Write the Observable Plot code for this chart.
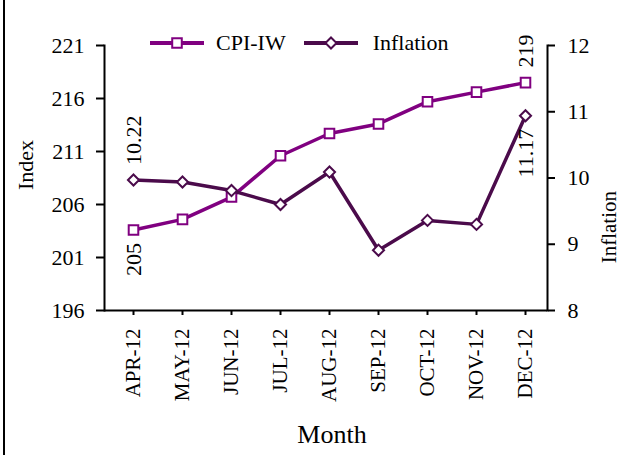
<!DOCTYPE html>
<html><head><meta charset="utf-8">
<script src="https://cdn.jsdelivr.net/npm/d3@7"></script>
<script src="https://cdn.jsdelivr.net/npm/@observablehq/plot@0.6"></script>
<style>
body{margin:0;background:#fff;font-family:"Liberation Serif","Times New Roman",serif;}
#wrap{position:relative;width:622px;height:455px;overflow:hidden;background:#fff;}
#border{position:absolute;left:3px;top:0;width:2px;height:455px;background:#000;}
#title{position:absolute;left:0;width:590px;text-align:center;top:-19px;font-size:22px;line-height:22px;color:#333;}
#legend{position:absolute;top:30px;left:150px;display:flex;align-items:center;font-size:22px;line-height:26px;color:#000;}
#legend svg{display:block;}
#chart{position:absolute;left:0;top:0;}
</style></head><body>
<div id="wrap">
  <div id="border"></div>
  <div id="chart"></div>
  <div id="title">Inflation Rate</div>
  <div id="legend"></div>
</div>
<script>
// ---- data ----
const months = ["APR-12","MAY-12","JUN-12","JUL-12","AUG-12","SEP-12","OCT-12","NOV-12","DEC-12"];
const cpiValues = [203.6, 204.6, 206.7, 210.6, 212.7, 213.6, 215.7, 216.6, 217.5];
const inflationValues = [9.97, 9.94, 9.81, 9.60, 10.09, 8.91, 9.36, 9.30, 10.94];
const indexTicks = [196, 201, 206, 211, 216, 221];
const inflationTicks = [8, 9, 10, 11, 12];
const seriesNames = ["CPI-IW", "Inflation"];
const seriesColors = ["#800080", "#4B0B4B"];
const labelMonths = ["APR-12", "APR-12", "DEC-12", "DEC-12"];
const labelSeries = ["Inflation", "CPI-IW", "CPI-IW", "Inflation"];
const labelTexts = ["10.22", "205", "219", "11.17"];
const labelSide = ["above", "below", "above", "below"];

// ---- derived ----
const inf2idx = d3.scaleLinear([8, 12], [196, 221]);
const rows = months.map((m, i) => ({month: m, cpi: cpiValues[i], inf: inf2idx(inflationValues[i])}));
const annotations = labelTexts.map((t, i) => {
  const r = rows[months.indexOf(labelMonths[i])];
  return {month: labelMonths[i], y: labelSeries[i] === "CPI-IW" ? r.cpi : r.inf, text: t, side: labelSide[i]};
});
const font = '"Liberation Serif", "Times New Roman", serif';

const chart = Plot.plot({
  width: 622, height: 455,
  marginLeft: 104, marginRight: 75, marginTop: 45, marginBottom: 145,
  style: {fontFamily: font, fontSize: "22px", color: "#000", background: "transparent"},
  x: {type: "point", domain: months, padding: 0, insetLeft: 27, insetRight: 20},
  y: {domain: [196, 221]},
  marks: [
    Plot.frame({anchor: "left", stroke: "#000", strokeWidth: 2}),
    Plot.frame({anchor: "right", stroke: "#000", strokeWidth: 2}),
    Plot.ruleY([196], {stroke: "#000", strokeWidth: 2}),
    Plot.axisY(indexTicks, {anchor: "left", tickSize: 8, tickPadding: 12, strokeWidth: 2, label: null, fontSize: 22}),
    Plot.axisY(inflationTicks.map(inf2idx), {anchor: "right", tickFormat: d => String(Math.round(inf2idx.invert(d))), tickSize: 7, tickPadding: 13, strokeWidth: 2, label: null, fontSize: 22}),
    Plot.axisX({tickRotate: -90, tickSize: 5, tickPadding: 13, strokeWidth: 2, label: null, fontSize: 21}),
    Plot.text(["Index"], {frameAnchor: "left", dx: -79, dy: 12, rotate: -90, fontSize: 22}),
    Plot.text(["Inflation"], {frameAnchor: "right", dx: 62, dy: 13, rotate: -90, fontSize: 21}),
    Plot.text(["Month"], {frameAnchor: "bottom", dx: 6, dy: 132, fontSize: 26}),
    Plot.line(rows, {x: "month", y: "cpi", stroke: seriesColors[0], strokeWidth: 3.5}),
    Plot.dot(rows, {x: "month", y: "cpi", symbol: "square", r: 5.4, fill: "white", stroke: seriesColors[0], strokeWidth: 2}),
    Plot.line(rows, {x: "month", y: "inf", stroke: seriesColors[1], strokeWidth: 3.5}),
    Plot.dot(rows, {x: "month", y: "inf", symbol: d3.symbolDiamond2, r: 5, fill: "white", stroke: seriesColors[1], strokeWidth: 2}),
    Plot.text(annotations.filter(d => d.side === "above"), {x: "month", y: "y", text: "text", rotate: -90, textAnchor: "start", dy: -15, fontSize: 22}),
    Plot.text(annotations.filter(d => d.side === "below"), {x: "month", y: "y", text: "text", rotate: -90, textAnchor: "end", dy: 13, fontSize: 22})
  ]
});
document.getElementById("chart").appendChild(chart);

// ---- legend ----
const legend = document.getElementById("legend");
seriesNames.forEach((name, i) => {
  const ns = "http://www.w3.org/2000/svg";
  const svg = document.createElementNS(ns, "svg");
  svg.setAttribute("width", 54); svg.setAttribute("height", 20);
  svg.style.marginRight = i === 0 ? "12px" : "15px";
  const line = document.createElementNS(ns, "line");
  line.setAttribute("x1", 0); line.setAttribute("x2", 54); line.setAttribute("y1", 10); line.setAttribute("y2", 10);
  line.setAttribute("stroke", seriesColors[i]); line.setAttribute("stroke-width", 4);
  svg.appendChild(line);
  const m = document.createElementNS(ns, "path");
  const sym = i === 0 ? d3.symbol(d3.symbolSquare, 5.4 * 5.4 * Math.PI) : d3.symbol(d3.symbolDiamond2, 25 * Math.PI);
  m.setAttribute("d", sym());
  m.setAttribute("transform", "translate(27,10)");
  m.setAttribute("fill", "white"); m.setAttribute("stroke", seriesColors[i]); m.setAttribute("stroke-width", 2);
  svg.appendChild(m);
  const span = document.createElement("span");
  span.textContent = name;
  span.style.marginRight = i === 0 ? "18px" : "0";
  legend.appendChild(svg);
  legend.appendChild(span);
});
</script>
</body></html>
